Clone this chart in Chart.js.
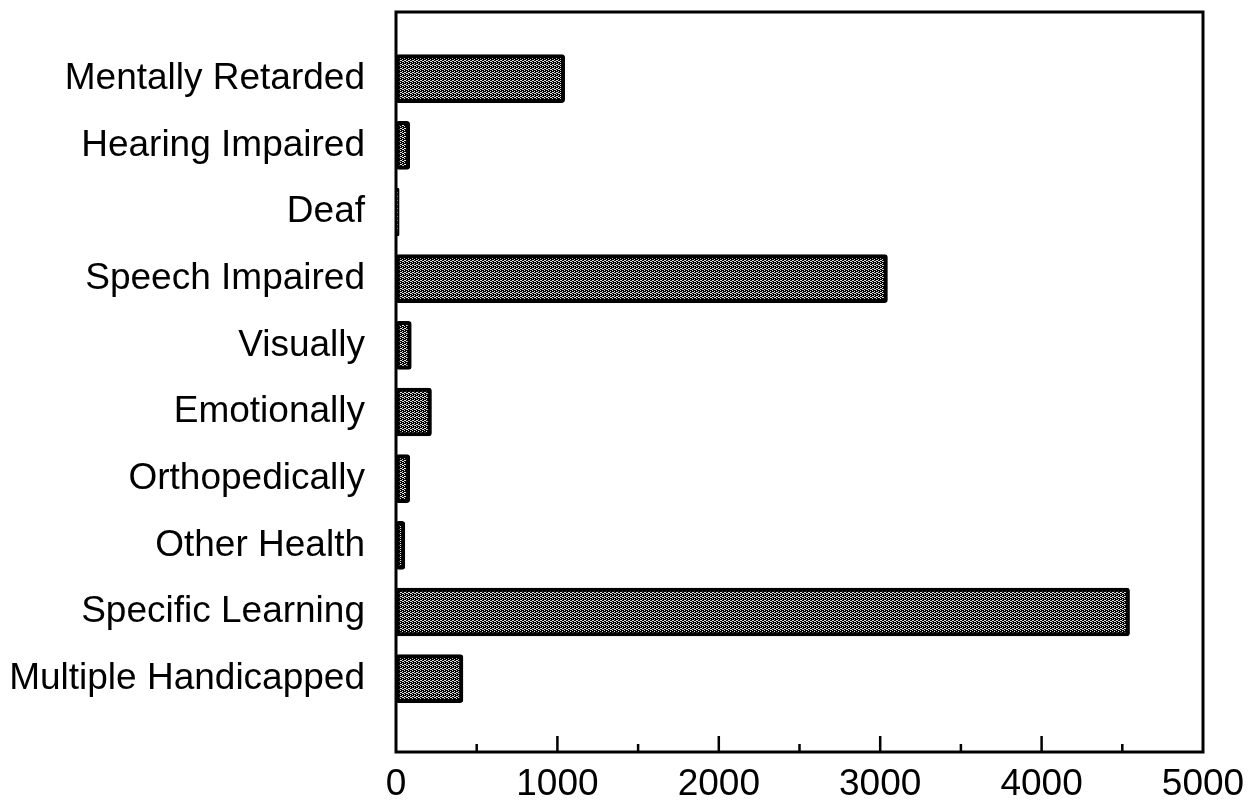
<!DOCTYPE html>
<html>
<head>
<meta charset="utf-8">
<script src="https://cdn.jsdelivr.net/npm/chart.js@4/dist/chart.umd.min.js"></script>
<style>
  html, body { margin: 0; padding: 0; background: #fff; }
  #wrap { width: 1250px; height: 807px; position: relative; }
</style>
</head>
<body>
<div id="wrap"><canvas id="graph-bar"></canvas></div>
<script>
const categories = ['Mentally Retarded', 'Hearing Impaired', 'Deaf', 'Speech Impaired', 'Visually',
  'Emotionally', 'Orthopedically', 'Other Health', 'Specific Learning', 'Multiple Handicapped']
const counts = [1045, 85, 20, 3045, 95, 220, 85, 55, 4545, 415]
const xTickValues = [0, 1000, 2000, 3000, 4000, 5000]

// stippled fill like the old printout
function stipple() {
  const c = document.createElement('canvas')
  c.width = 4; c.height = 4
  const g = c.getContext('2d')
  g.fillStyle = '#000'
  g.fillRect(0, 0, 4, 4)
  g.fillStyle = '#ddd'
  ;[[1,0],[3,1],[0,2],[2,3],[2,1],[0,0]].forEach(p => g.fillRect(p[0], p[1], 1, 1))
  return g.createPattern(c, 'repeat')
}

const frame = {
  id: 'frame',
  afterDraw(chart) {
    const { ctx, chartArea: a, scales } = chart
    ctx.save()
    ctx.strokeStyle = '#000'
    ctx.lineWidth = 3
    ctx.strokeRect(a.left, a.top, a.right - a.left, a.bottom - a.top)
    ctx.lineWidth = 2.5
    for (let v = 500; v < 5000; v += 500) {
      const x = scales.x.getPixelForValue(v)
      const len = v % 1000 === 0 ? 16 : 8
      ctx.beginPath()
      ctx.moveTo(x, a.bottom)
      ctx.lineTo(x, a.bottom - len)
      ctx.stroke()
    }
    ctx.restore()
  }
}

const data = {
  datasets: [{
    data: counts.map((v, i) => ({ x: v, y: i + 1 })),
    backgroundColor: stipple(),
    borderColor: '#000',
    borderWidth: 4,
    borderRadius: 3,
    borderSkipped: false,
    barThickness: 48
  }]
}

const config = {
  type: 'bar',
  data: data,
  options: {
    indexAxis: 'y',
    responsive: true,
    maintainAspectRatio: false,
    animation: false,
    layout: { padding: { top: 12, right: 47, left: 0, bottom: 0 } },
    plugins: { legend: { display: false }, tooltip: { enabled: false } },
    scales: {
      x: {
        type: 'linear',
        min: 0,
        max: 5000,
        grid: { display: false, drawTicks: false },
        border: { display: false },
        afterBuildTicks: s => { s.ticks = xTickValues.map(v => ({ value: v })) },
        afterFit: s => { s.height = 55; s.paddingLeft = 0; s.paddingRight = 0 },
        ticks: {
          color: '#000',
          padding: 11,
          maxRotation: 0,
          font: { family: 'Liberation Sans', size: 37 },
          callback: v => String(v)
        }
      },
      y: {
        type: 'linear',
        reverse: true,
        offset: false,
        min: 0,
        max: 11.1,
        grid: { display: false, drawTicks: false, offset: false },
        border: { display: false },
        afterBuildTicks: s => { s.ticks = categories.map((c, i) => ({ value: i + 1 })) },
        afterFit: s => { s.width = 396; s.paddingTop = 0; s.paddingBottom = 0 },
        ticks: {
          color: '#000',
          padding: 31,
          autoSkip: false,
          font: { family: 'Liberation Sans', size: 37 },
          callback: v => categories[v - 1]
        }
      }
    }
  },
  plugins: [frame]
}

let chart = new Chart(document.querySelector('#graph-bar'), config)
</script>
</body>
</html>
